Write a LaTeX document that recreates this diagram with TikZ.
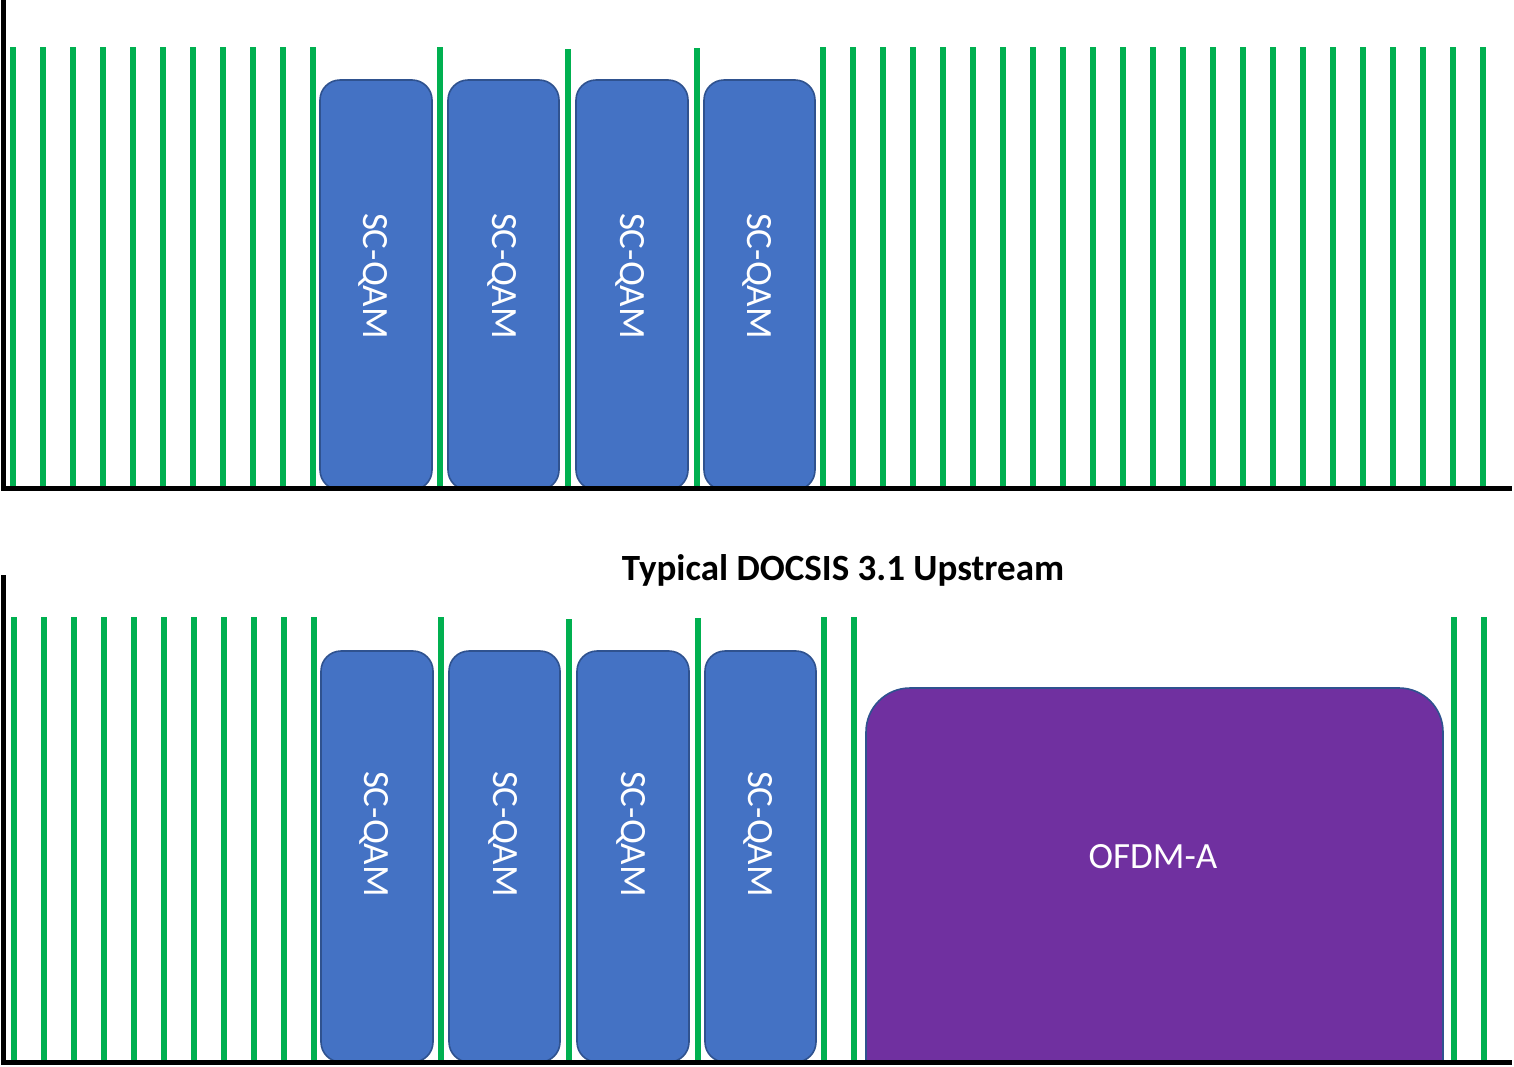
\documentclass[tikz,border=0pt]{standalone}
\usepackage{fontspec}
\setmainfont{Carlito}
\definecolor{chgreen}{HTML}{00B050}
\definecolor{scblue}{HTML}{4472C4}
\definecolor{edgeblue}{HTML}{2F528F}
\definecolor{ofdmpurple}{HTML}{7030A0}
\tikzset{
  carrier/.style={draw=chgreen, line width=2.6pt},
  axisline/.style={draw=black, line width=2.5pt},
  scbox/.style={fill=scblue, draw=edgeblue, line width=0.8pt, rounded corners=10pt},
  ofdmbox/.style={fill=ofdmpurple, draw=edgeblue, line width=0.8pt, rounded corners=22pt},
  boxlabel/.style={text=white, font=\fontsize{18.5}{22}\selectfont, inner sep=0pt},
  title/.style={font=\bfseries\fontsize{18.5}{22}\selectfont, inner sep=0pt}
}
\begin{document}
\begin{tikzpicture}[x=0.5pt,y=-0.5pt]
\useasboundingbox (0,0) rectangle (1514,1066);
% ---------- top panel ----------
\foreach \x in {13,43,...,313,440,823,853,...,1483}
  \draw[carrier] (\x,47) -- (\x,488);
\draw[carrier] (568,49) -- (568,490);
\draw[carrier] (697,48) -- (697,488);
\foreach \a/\b [count=\i] in {320/432,448/559,576/688,704/815}
  \path[scbox] (\a,80) rectangle (\b,490);
\foreach \x [count=\i] in {373,502,630,757}
  \node[boxlabel, rotate=-90] (ta\i) at (\x,276) {SC-QAM};
\coordinate (o1) at (3,0);
\coordinate (c1) at (3,488.5);
\coordinate (e1) at (1512,488.5);
\draw[axisline] (o1) -- (c1) -- (e1);
% ---------- title ----------
\node[title, anchor=base] (title) at (843,580) {Typical DOCSIS 3.1 Upstream};
% ---------- bottom panel ----------
\foreach \x in {14,44,...,314,441,824,854,1454,1484}
  \draw[carrier] (\x,617) -- (\x,1061);
\draw[carrier] (569,619) -- (569,1063);
\draw[carrier] (698,618) -- (698,1061);
\foreach \a/\b in {321/433,449/560,577/689,705/816}
  \path[scbox] (\a,651) rectangle (\b,1062);
\begin{scope}
  \clip (0,0) rectangle (1514,1062);
  \path[ofdmbox] (866,688) rectangle (1443,1130);
\end{scope}
\foreach \x [count=\i] in {374,503,631,758}
  \node[boxlabel, rotate=-90] (ba\i) at (\x,834) {SC-QAM};
\node[boxlabel] (ofdm) at (1153,857) {OFDM-A};
\coordinate (o2) at (3.5,575);
\coordinate (c2) at (3.5,1062.5);
\coordinate (e2) at (1512,1062.5);
\draw[axisline] (o2) -- (c2) -- (e2);
\end{tikzpicture}
\end{document}
